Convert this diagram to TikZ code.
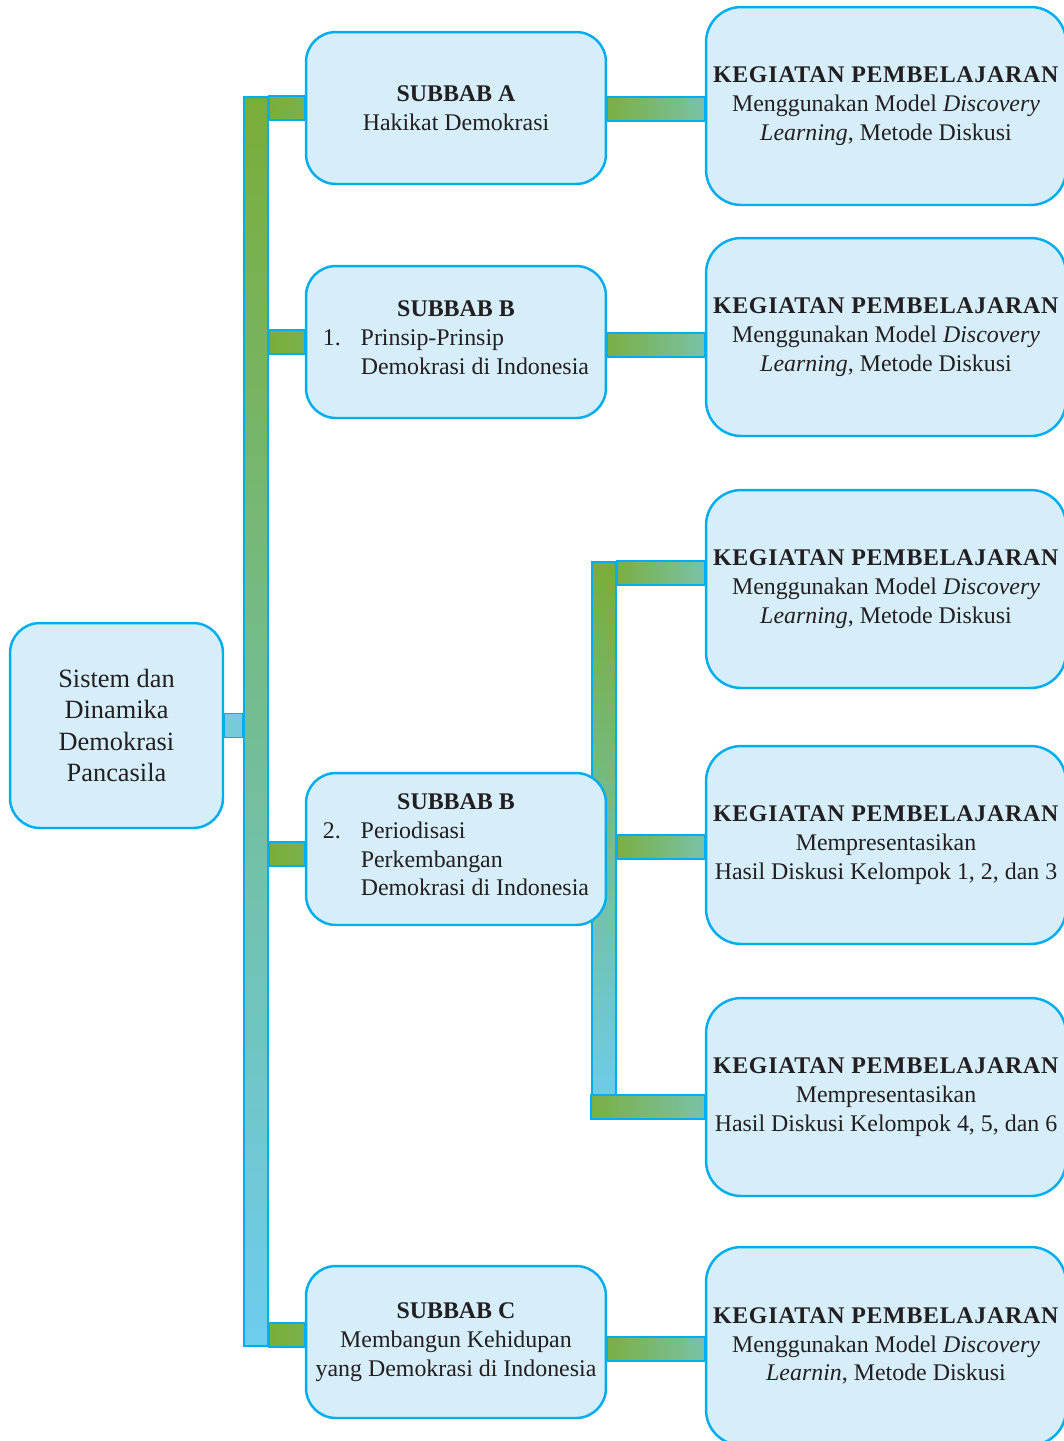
\documentclass[tikz,border=0pt]{standalone}
\usepackage{fontspec}
\setmainfont{Liberation Serif}
\usetikzlibrary{calc,backgrounds}
\definecolor{boxfill}{HTML}{D6EDFA}
\definecolor{boxline}{HTML}{00AEEF}
\definecolor{bargreen}{HTML}{7AAD38}
\definecolor{barteal}{HTML}{79C2A8}
\definecolor{barblue}{HTML}{6DCDEF}
\definecolor{stubblue}{HTML}{78CADB}
\definecolor{ink}{HTML}{231F20}
\newcommand{\kegtitle}{{\addfontfeature{LetterSpace=3}\textbf{KEGIATAN PEMBELAJARAN}}}
\begin{document}
\begin{tikzpicture}[x=0.02cm, y=-0.02cm, line join=round, text=ink, font=\fontsize{13.6}{16.4}\selectfont]
	\tikzset{box/.style={draw=boxline, fill=boxfill, line width=1.4pt, rounded corners=17pt, align=center, inner sep=2pt},
		subbox/.style={box, minimum width=6cm, minimum height=3.04cm},
		kbox/.style={box, minimum width=7.2cm, minimum height=3.96cm, rounded corners=20pt},
		hbar/.style={draw=boxline, line width=1.1pt, left color=bargreen!90!barteal, right color=barteal},
		hstub/.style={draw=boxline, line width=1.1pt, left color=bargreen, right color=bargreen!80!barteal},
		vbar/.style={draw=boxline, line width=1.1pt, top color=bargreen, bottom color=barblue, minimum width=0.48cm, inner sep=0pt}}
	\useasboundingbox (0,0) rectangle (1063,1441);
	% boxes
	\node[box, minimum width=4.26cm, minimum height=4.1cm, font=\fontsize{15}{18}\selectfont] (root) at (116.5,725.5) {Sistem dan\\Dinamika\\Demokrasi\\Pancasila};
	\node[subbox] (subA) at (456,108) {\textbf{SUBBAB A}\\Hakikat Demokrasi};
	\node[subbox] (subB1) at (456,342) {\textbf{SUBBAB B}\\\begin{tabular}[t]{@{}p{21.5pt}@{}l@{}}1.&Prinsip-Prinsip\\&Demokrasi di Indonesia\end{tabular}};
	\node[subbox] (subB2) at (456,849) {\textbf{SUBBAB B}\\\begin{tabular}[t]{@{}p{21.5pt}@{}l@{}}2.&Periodisasi\\&Perkembangan\\&Demokrasi di Indonesia\end{tabular}};
	\node[subbox] (subC) at (456,1342) {\textbf{SUBBAB C}\\Membangun Kehidupan\\yang Demokrasi di Indonesia};
	\node[kbox] (kA) at (886,106) {\kegtitle\\Menggunakan Model \textit{Discovery}\\\textit{Learning}, Metode Diskusi};
	\node[kbox] (kB) at (886,337) {\kegtitle\\Menggunakan Model \textit{Discovery}\\\textit{Learning}, Metode Diskusi};
	\node[kbox] (kC) at (886,589) {\kegtitle\\Menggunakan Model \textit{Discovery}\\\textit{Learning}, Metode Diskusi};
	\node[kbox] (kD) at (886,845) {\kegtitle\\Mempresentasikan\\Hasil Diskusi Kelompok 1, 2, dan 3};
	\node[kbox] (kE) at (886,1097) {\kegtitle\\Mempresentasikan\\Hasil Diskusi Kelompok 4, 5, dan 6};
	\node[kbox] (kF) at (886,1346) {\kegtitle\\Menggunakan Model \textit{Discovery}\\\textit{Learnin}, Metode Diskusi};
	% bars
	\begin{scope}[on background layer]
		\node[vbar, minimum height=24.98cm] (trunk) at (256,721.5) {};
		\node[vbar, minimum height=11.12cm] (subtrunk) at (604,840) {};
		\filldraw[draw=boxline, line width=1.1pt, fill=stubblue] ($(root.east)+(0,-12)$) rectangle ($(trunk.west |- root.east)+(0,12)$);
		\draw[hstub] (trunk.north east) rectangle ($(subA.west |- trunk.north)+(0,24)$);
		\draw[hstub] ($(trunk.east |- subB1.west)+(0,-12)$) rectangle ($(subB1.west)+(0,12)$);
		\draw[hstub] ($(trunk.east |- subB2.west)+(0,-7)$) rectangle ($(subB2.west)+(0,17)$);
		\draw[hstub] (trunk.south east) rectangle ($(subC.west |- trunk.south)+(0,-24)$);
		\draw[hbar] ($(subA.east)+(0,-11)$) rectangle ($(kA.west |- subA.east)+(0,13)$);
		\draw[hbar] ($(subB1.east)+(0,-9)$) rectangle ($(kB.west |- subB1.east)+(0,15)$);
		\draw[hbar] ($(subC.east)+(0,-5)$) rectangle ($(kF.west |- subC.east)+(0,19)$);
		\draw[hbar] (subtrunk.north east) rectangle ($(kC.west |- subtrunk.north)+(0,24)$);
		\draw[hbar] ($(subtrunk.east |- kD.west)+(0,-10)$) rectangle ($(kD.west)+(0,14)$);
		\draw[hbar] (subtrunk.south west) rectangle ($(kE.west |- subtrunk.south)+(0,-24)$);
	\end{scope}
\end{tikzpicture}
\end{document}
